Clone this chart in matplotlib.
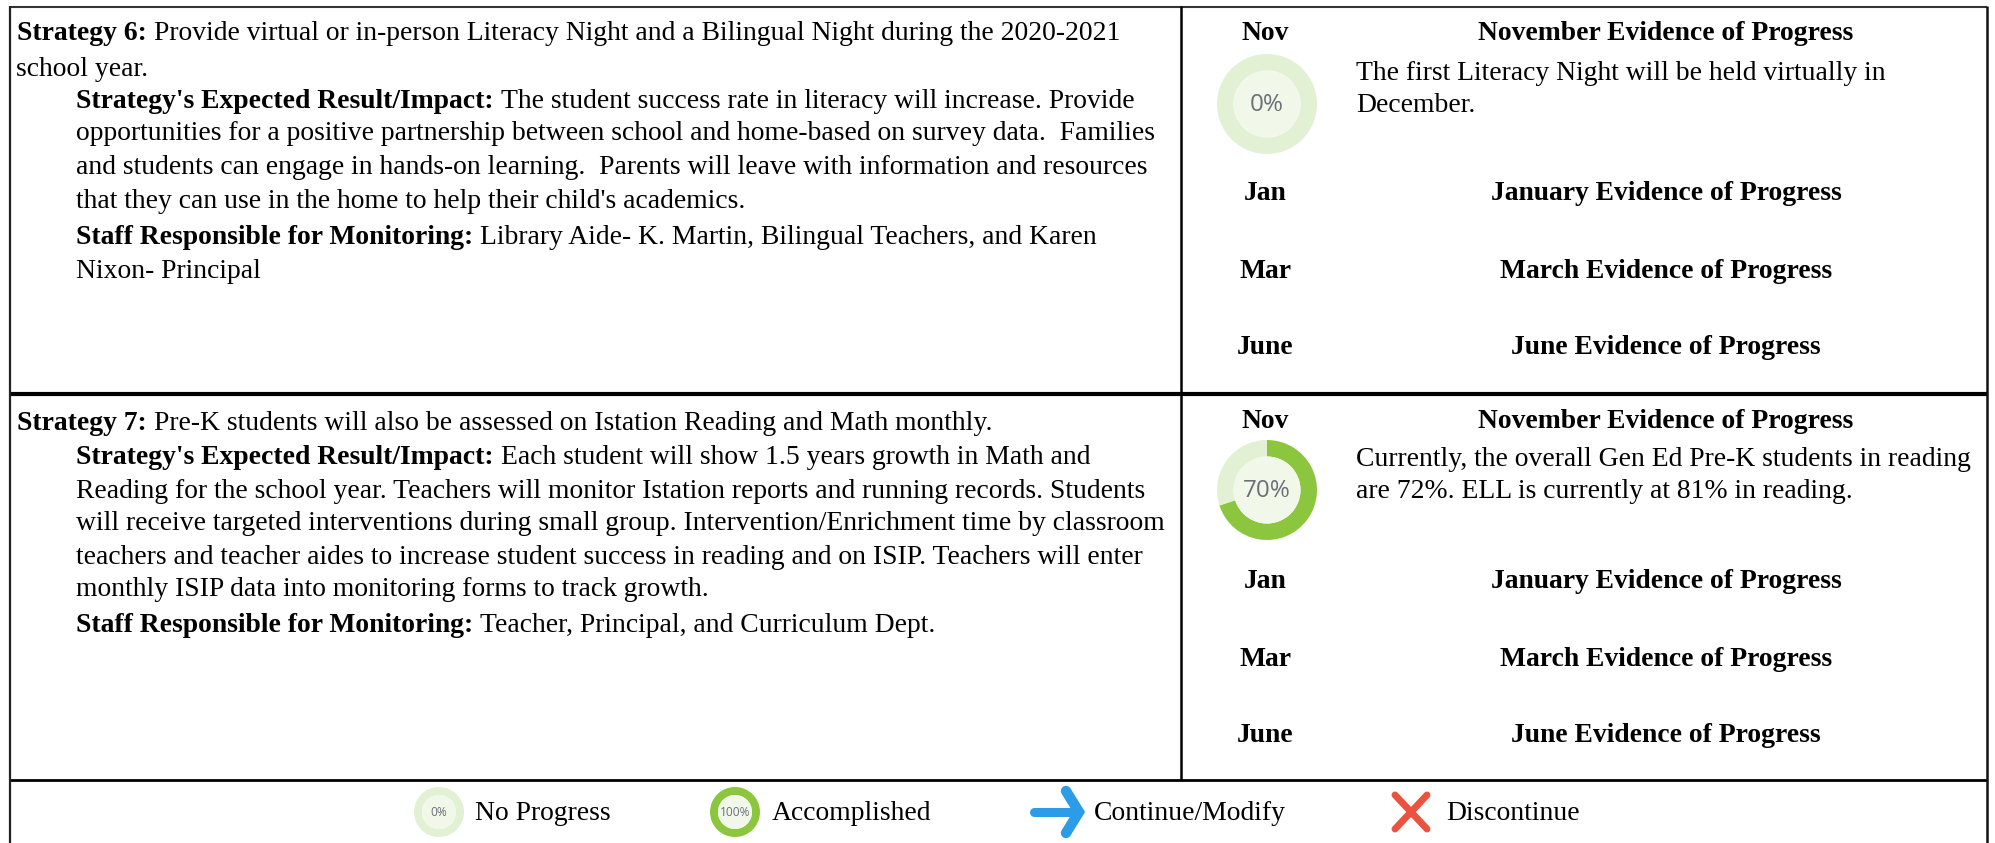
import matplotlib
matplotlib.use("Agg")
import matplotlib.pyplot as plt

W, H = 1995, 843
plt.rcParams['font.family'] = ['Liberation Serif', 'DejaVu Serif']
FS = 19.9

months = ["Nov", "Jan", "Mar", "June"]
evidence = ["November Evidence of Progress", "January Evidence of Progress",
            "March Evidence of Progress", "June Evidence of Progress"]
progress_values = [0, 70]
legend_labels = ["No Progress", "Accomplished", "Continue/Modify", "Discontinue"]
legend_values = [0, 100]

left_lines = [
    (17, 34, "Strategy 6:", "Provide virtual or in-person Literacy Night and a Bilingual Night during the 2020-2021"),
    (16, 69, "", "school year."),
    (76, 101, "Strategy's Expected Result/Impact:", "The student success rate in literacy will increase. Provide"),
    (76, 134, "", "opportunities for a positive partnership between school and home-based on survey data.  Families"),
    (76, 167, "", "and students can engage in hands-on learning.  Parents will leave with information and resources"),
    (76, 201, "", "that they can use in the home to help their child's academics."),
    (76, 237, "Staff Responsible for Monitoring:", "Library Aide- K. Martin, Bilingual Teachers, and Karen"),
    (76, 271, "", "Nixon- Principal"),
    (17, 424, "Strategy 7:", "Pre-K students will also be assessed on Istation Reading and Math monthly."),
    (76, 458, "Strategy's Expected Result/Impact:", "Each student will show 1.5 years growth in Math and"),
    (76, 491, "", "Reading for the school year. Teachers will monitor Istation reports and running records. Students"),
    (76, 524, "", "will receive targeted interventions during small group. Intervention/Enrichment time by classroom"),
    (76, 557, "", "teachers and teacher aides to increase student success in reading and on ISIP. Teachers will enter"),
    (76, 590, "", "monthly ISIP data into monitoring forms to track growth."),
    (76, 626, "Staff Responsible for Monitoring:", "Teacher, Principal, and Curriculum Dept."),
]
right_lines = [
    (1356, 74, "The first Literacy Night will be held virtually in"),
    (1356, 105, "December."),
    (1356, 460, "Currently, the overall Gen Ed Pre-K students in reading"),
    (1356, 492, "are 72%. ELL is currently at 81% in reading."),
]
row_month_y = [[34, 194, 272, 348], [422, 582, 659, 736]]

GREEN = "#8CC63F"
PALE = "#E2F0D4"
INNER = "#F1F8EA"
TXT = "#6B7078"

fig = plt.figure(figsize=(W / 100, H / 100), dpi=100, facecolor="white")
ax = fig.add_axes([0, 0, 1, 1])
ax.set_xlim(0, W)
ax.set_ylim(H, 0)
ax.axis("off")
r = fig.canvas.get_renderer()


def run(x, y, bold, reg):
    if bold:
        t = ax.text(x, y, bold, fontsize=FS, weight="bold", va="center", ha="left", color="black")
        bb = t.get_window_extent(r)
        x = bb.x1 + 7
    ax.text(x, y, reg, fontsize=FS, va="center", ha="left", color="black")


def donut(cx, cy, rx, ry, value, label, fs, inner_frac):
    a = fig.add_axes([(cx - rx) / W, 1 - (cy + ry) / H, 2 * rx / W, 2 * ry / H])
    vals = [value, 100 - value]
    a.pie(vals, colors=[GREEN, PALE], startangle=90, counterclock=False, radius=1,
          wedgeprops=dict(width=1 - inner_frac, linewidth=0))
    a.add_patch(plt.Circle((0, 0), inner_frac, color=INNER, lw=0, zorder=3))
    a.set_aspect("auto")
    a.set_xlim(-1, 1)
    a.set_ylim(-1, 1)
    a.text(0, -0.02, label, fontsize=fs, family="Open Sans", ha="center", va="center", color=TXT, zorder=4)


for x, y, b, s in left_lines:
    run(x, y, b, s)
for x, y, s in right_lines:
    ax.text(x, y, s, fontsize=FS, va="center", ha="left", color="black")

for ys in row_month_y:
    for m, e, y in zip(months, evidence, ys):
        ax.text(1265, y, m, fontsize=FS, weight="bold", ha="center", va="center")
        ax.text(1666, y, e, fontsize=FS, weight="bold", ha="center", va="center")

for cy, v in zip([104, 490], progress_values):
    donut(1267, cy, 50, 50, v, f"{v}%", 17.5, 0.67)

# frame
L, R = 9.5, 1987
ax.plot([L, R], [7, 7], color="#333333", lw=1.5, solid_capstyle="butt")
ax.plot([L, R], [393.5, 393.5], color="black", lw=3, solid_capstyle="butt")
ax.plot([L, R], [779.5, 779.5], color="black", lw=2, solid_capstyle="butt")
ax.plot([1181, 1181], [6, 780], color="black", lw=1.8, solid_capstyle="butt")
ax.plot([L, L], [6, H], color="#222222", lw=1.6, solid_capstyle="butt")
ax.plot([R, R], [6, H], color="#111111", lw=1.8, solid_capstyle="butt")

# legend
donut(439, 812, 25, 25, legend_values[0], f"{legend_values[0]}%", 8.6, 0.68)
donut(735, 812, 25, 25, legend_values[1], f"{legend_values[1]}%", 8.6, 0.68)
ax.text(475, 814, legend_labels[0], fontsize=FS, va="center")
ax.text(772, 814, legend_labels[1], fontsize=FS, va="center")
ax.text(1094, 814, legend_labels[2], fontsize=FS, va="center")
ax.text(1446, 814, legend_labels[3], fontsize=FS, va="center")

BLUE = "#2B9CE8"
RED = "#EB5340"
ax.plot([1034, 1078], [812, 812], color=BLUE, lw=6.5, solid_capstyle="round")
ax.plot([1066, 1079, 1066], [791, 812, 833], color=BLUE, lw=7.5,
        solid_capstyle="round", solid_joinstyle="miter")
ax.plot([1395, 1427], [795, 829], color=RED, lw=5, solid_capstyle="round")
ax.plot([1395, 1427], [829, 795], color=RED, lw=5, solid_capstyle="round")

fig.savefig("out.png", dpi=100, facecolor="white")
